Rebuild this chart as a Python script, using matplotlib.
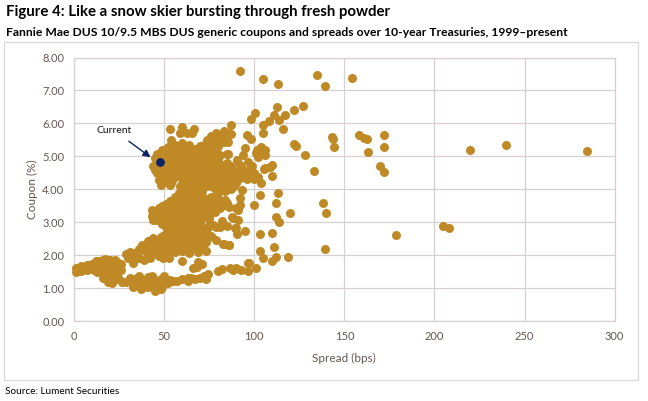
import matplotlib
matplotlib.use("Agg")
import matplotlib.pyplot as plt
from matplotlib.patches import Rectangle

plt.rcParams['font.family'] = ['Lato', 'DejaVu Sans']

# (spread bps, coupon %), one list per cloud
outliers = [(91.9,7.60),(105,7.34),(113,7.20),(135,7.46),(139,7.12),(154,7.39),(112.6,6.49),(127,6.52),
            (122,6.40),(117,6.25),(111,6.24),(114,6.10),(108,6.06),(104.8,5.96),(100.4,6.33),(98,6.13),
            (116,5.83),(105,5.70),(87,5.94),(87.3,5.67),(95.8,5.65),(98,5.53),(85.6,5.43),(85.4,5.07),
            (122,5.37),(123,5.30),(128,5.03),(143,5.59),(143.9,5.52),(144,5.28),(157.9,5.65),(160.9,5.55),
            (162.3,5.53),(172,5.65),(172,5.28),(162.9,5.13),(169.9,4.71),(172,4.53),(219.8,5.19),(239.8,5.33),
            (284.7,5.17),(178.8,2.60),(204.8,2.88),(208,2.81),(133,4.56),(138,3.58),(140,3.28),(139,2.19),
            (113,3.88),(111.9,3.59),(103,3.82),(119.8,3.28),(99.8,3.53),(111.9,3.15),(114,3.00),(103,2.63),
            (109.8,2.66),(110.9,2.25),(103,2.12),(104.8,1.92),(112,1.95),(109.8,1.82),(118.9,1.95),(100.9,1.61),
            (96.9,1.77),(93,3.98),(91.9,3.72),(92,3.52),(91.2,3.37),(88,3.14),(91,3.06),(89.9,2.81),(90.2,2.64),
            (95,2.73),(83.2,2.35),(86,2.31),(101.9,4.38),(103.9,4.18),(109.8,4.41),(105.4,4.61),(108.7,4.67),
            (101.3,5.19),(104,5.29),(106,5.19),(102.2,4.99),(106,5.04),(94.8,5.24),(93.9,5.04),(90.2,4.89),
            (84.7,4.79),(96.7,4.84),(92,4.74),(109.6,4.74),(106,4.64),(101,5.10),(104,5.08),(103,5.20),(99,4.72),
            (53,5.82),(60,5.90),(58.8,5.72),(62.8,5.72),(66.7,5.82),(65.3,5.70),(54,5.50),(85,5.08)]

upper_cloud = [(76,5.62),(79,5.72),(83,5.78),(85,5.70),(74,5.50),(78,5.48),(82,5.52),(72,5.35),(76,5.30),(80,5.32),
               (52,5.28),(56,5.33),(60,5.40),(63,5.28),(71,5.18),(75,5.12),(79,5.16),(81,5.05),
               (46,5.08),(50,5.10),(54,5.12),(58,5.10),(62,5.14),(66,5.02),(70,5.00),(74,4.96),(78,4.98),
               (44,4.72),(45,4.95),(49,4.92),(53,4.95),(57,4.90),(61,4.94),(65,4.86),(69,4.82),(73,4.80),(77,4.84),(80,4.82),
               (47,4.68),(51,4.72),(55,4.74),(59,4.70),(63,4.72),(67,4.66),(71,4.62),(75,4.64),(79,4.60),(83,4.64),(87,4.60),
               (46,4.48),(50,4.52),(54,4.50),(58,4.54),(62,4.48),(66,4.44),(70,4.46),(74,4.42),(78,4.48),(82,4.44),(86,4.42),
               (90,4.48),(94,4.52),(98,4.46),(47,4.28),(51,4.32),(55,4.30),(60,4.30),(64,4.26),(68,4.32),(72,4.24),(76,4.28),
               (80,4.26),(84,4.24),(88,4.30),(92,4.34),(96,4.32),(48,4.12),(53,4.14),(59,4.10),(63,4.06),(67,4.10),(70,4.04),
               (77,4.08),(81,4.12),(85,4.06),(89,4.10),(58,3.90),(62,3.88),(66,3.92),(69,3.86),(80,3.92),(84,3.96)]

upper_fill = [(77,5.58),(81,5.62),(75,5.40),(79,5.42),(54,5.20),(58,5.22),(62,5.20),(66,5.14),(73,5.22),(77,5.20),
              (48,5.00),(52,5.02),(56,5.02),(60,5.04),(64,5.00),(68,4.92),(72,4.90),(76,4.90),(80,4.92),
              (47,4.82),(51,4.84),(55,4.84),(59,4.82),(63,4.84),(67,4.76),(71,4.72),(75,4.74),(79,4.72),(83,4.74),(87,4.72),
              (45,4.58),(49,4.62),(53,4.62),(57,4.62),(61,4.60),(65,4.58),(69,4.56),(73,4.54),(77,4.54),(81,4.54),(85,4.52),(89,4.56),(93,4.60),(97,4.58),
              (48,4.40),(52,4.42),(56,4.40),(60,4.40),(64,4.38),(68,4.38),(72,4.34),(76,4.36),(80,4.36),(84,4.34),(88,4.40),(92,4.42),(96,4.42),(100,4.48),
              (50,4.22),(54,4.20),(62,4.18),(66,4.18),(70,4.16),(78,4.18),(82,4.18),(86,4.16),(90,4.20),
              (60,4.00),(64,3.98),(68,3.98),(71,3.94),(82,4.02),(59,3.82),(63,3.80),(67,3.84),
              (68,5.10),(70,5.30),(67,5.22),(64,5.34),(58,5.30),(49,5.20),(74,5.04),(78,5.08),(72,5.08),(83,5.42),(80,5.56),
              (75,4.18),(74,4.10),(79,3.98),(87,4.00),(94,4.42),(98,4.38),(100,4.30)]

mid_cloud = [(56,3.76),(60,3.72),(64,3.78),(68,3.70),(72,3.74),(76,3.68),(80,3.72),(84,3.66),
             (51,3.56),(55,3.54),(59,3.58),(63,3.52),(67,3.56),(71,3.50),(75,3.54),(79,3.50),(83,3.52),(86,3.46),
             (43,3.38),(47,3.42),(51,3.36),(55,3.40),(59,3.34),(63,3.38),(67,3.32),(71,3.36),(74,3.30),
             (43,3.18),(47,3.20),(51,3.14),(55,3.18),(59,3.12),(63,3.16),(67,3.10),(71,3.14),(75,3.20),(44,3.06),
             (49,2.96),(53,2.92),(57,2.96),(61,2.90),(65,2.94),(69,2.88),(73.6,2.86),(79,2.86),(84.7,2.88),(82,3.04),
             (87.4,3.15),(90,3.44),(89.3,2.83),(52,2.72),(56,2.76),(60,2.70),(64,2.74),(68,2.68),(71,2.72),
             (44,2.52),(48,2.56),(52,2.50),(56,2.54),(60,2.48),(64,2.52),(68,2.46),(72,2.50),(75.8,2.59),(78.8,2.46),
             (82.8,2.34),(86,2.30),(38,2.32),(42,2.36),(46,2.30),(50,2.34),(54,2.28),(58,2.32),(62,2.26),(66,2.30),(70,2.26),
             (31,2.10),(34,2.06),(38.5,2.15),(44,2.12),(48,2.08),(52,2.14),(56,2.08),(60,2.12),(64,2.06),(69,2.10),(73,2.12),
             (30,1.92),(33,1.75),(36,1.92),(39,1.85),(42,1.90),(47,1.96),(49.5,1.90),(52.7,1.90),(59.7,1.83),
             (69,1.80),(68,1.65),(66,1.60),(71,1.72)]

mid_fill = [(58,3.64),(62,3.62),(66,3.64),(70,3.60),(74,3.62),(78,3.60),(82,3.60),(53,3.64),(49,3.48),(53,3.46),(57,3.46),(61,3.44),(65,3.44),(69,3.42),
            (73,3.42),(77,3.42),(81,3.44),(45,3.28),(49,3.28),(53,3.26),(57,3.28),(61,3.24),(65,3.26),(69,3.22),(73,3.24),(46,3.08),(50,3.04),(54,3.06),
            (58,3.02),(62,3.04),(66,3.00),(70,3.02),(51,2.84),(55,2.84),(59,2.82),(63,2.84),(67,2.80),(71,2.80),(74,2.78),(54,2.64),(58,2.62),(62,2.62),
            (66,2.60),(70,2.60),(74,2.62),(50,2.62),(41,2.44),(45,2.44),(49,2.42),(53,2.40),(57,2.42),(61,2.38),(65,2.40),(69,2.38),(73,2.40),(40,2.24),
            (36,2.20),(44,2.24),(48,2.22),(52,2.22),(56,2.20),(60,2.20),(64,2.18),(68,2.18),(72,2.20),(46,2.02),(50,2.00),(41,2.02),(33,1.98),(29,2.02),
            (76,3.76),(72,3.60),(85,3.58),(78,3.30),(75,3.10),(77,2.92),(81,2.84)]

left_band = [(1,1.62),(1,1.50),(4,1.66),(4,1.52),(7,1.70),(7,1.56),(10,1.72),(11,1.56),(14,1.82),(14,1.64),(13,1.48),
             (17,1.88),(17,1.68),(16,1.44),(16,1.30),(20,1.86),(20,1.68),(20,1.48),(19,1.26),(23,1.84),(24,1.64),(24,1.44),(22,1.24),
             (26,1.74),(26,1.55),(26.5,1.19),(29,1.18),(32,1.22),(3,1.60),(6,1.62),(9,1.64),(12,1.72),(15,1.74),(15,1.56),(18,1.78),
             (18,1.58),(18,1.38),(21,1.76),(22,1.58),(22,1.36),(25,1.28),(12,1.82),(16,1.86),(24,1.78),(19,1.18),(21,1.16)]

low_band = [(33,1.04),(35,1.32),(36,1.14),(38,1.00),(40,1.16),(41,1.34),(43,1.06),(44,1.30),(46,0.98),(47,1.18),(49,1.02),
            (50,1.38),(50,1.22),(53,1.25),(55,1.20),(57,1.22),(63.4,1.30),(63,1.20),(67,1.28),(70,1.30),(73,1.28),(74.5,1.42),
            (80,1.52),(82,1.57),(86.5,1.60),(88,1.54),(90,1.62),(92.9,1.55),(96.7,1.53),(96.7,1.77),
            (34,1.18),(37,1.26),(39,1.08),(42,1.24),(44,1.14),(48,1.28),(46,1.08),(52,1.16),(60,1.26),(65,1.30),(72,1.36),
            (31,1.30),(37,0.96),(41,1.02),(45,0.92),(48,0.96),(36,1.36),(43,1.36)]

current = (47.9, 4.83)

x_ticks = [0, 50, 100, 150, 200, 250, 300]
y_ticks = [0, 1, 2, 3, 4, 5, 6, 7, 8]

gold = '#BF8A25'
navy = '#0B2265'
grid_col = '#D8D0D0'
tick_col = '#655650'

fig = plt.figure(figsize=(6.48, 4.01), dpi=100)
W, H = 648, 401

# thin box round the chart
fig.add_artist(Rectangle((4/W, 1-380/H), 634/W, 338/H, transform=fig.transFigure,
                         fill=False, edgecolor='#DDD8D8', lw=0.9))

ax = fig.add_axes([74/W, 1-321/H, (614.7-74)/W, (321-57.5)/H])
for pts in [outliers, upper_cloud, upper_fill, mid_cloud, mid_fill, left_band, low_band]:
    ax.scatter([p[0] for p in pts], [p[1] for p in pts], s=42, color=gold, lw=0, zorder=3, clip_on=False)
ax.scatter([current[0]], [current[1]], s=40, color=navy, lw=0, zorder=4)

ax.set_xlim(0, 300)
ax.set_ylim(0, 8)
ax.set_xticks(x_ticks)
ax.set_yticks(y_ticks)
ax.set_yticklabels(['%.2f' % v for v in y_ticks])
ax.grid(True, color=grid_col, lw=0.9, zorder=0)
ax.set_axisbelow(True)
for s in ax.spines.values():
    s.set_color(grid_col)
    s.set_linewidth(0.9)
ax.tick_params(length=0, labelsize=8, labelcolor=tick_col, pad=7)
ax.set_xlabel('Spread (bps)', fontsize=8.5, color=tick_col, labelpad=8)
ax.set_ylabel('Coupon (%)', fontsize=8.5, color=tick_col, labelpad=3)

ax.annotate('Current', xy=(42.5, 4.97), xytext=(22.5, 5.78), fontsize=7.5, color='#111111',
            ha='center', va='center',
            arrowprops=dict(arrowstyle='-|>', color=navy, lw=1.0, shrinkA=4, shrinkB=0, mutation_scale=11),
            zorder=5)

fig.text(6/W, 1-12/H, 'Figure 4: Like a snow skier bursting through fresh powder', fontsize=10.8,
         fontweight='bold', va='center', color='black')
fig.text(6/W, 1-33/H, 'Fannie Mae DUS 10/9.5 MBS DUS generic coupons and spreads over 10-year Treasuries, 1999\u2013present',
         fontsize=8.75, fontweight='bold', va='center', color='black')
fig.text(5/W, 1-392/H, 'Source: Lument Securities', fontsize=7.2, va='center', color='black')

fig.savefig('out.png', dpi=100)
